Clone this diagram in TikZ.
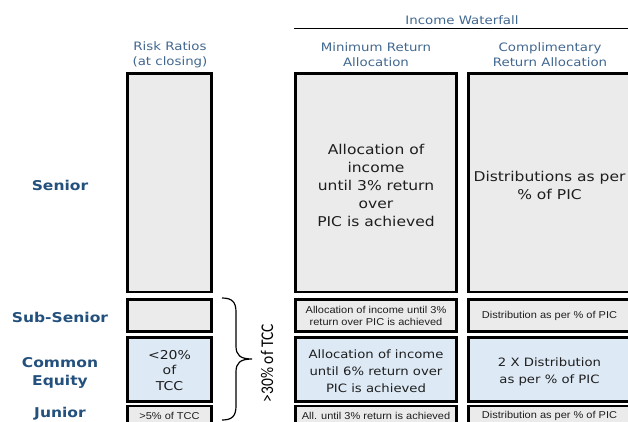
\documentclass[tikz,border=0pt]{standalone}
\usepackage{fontspec}
\usepackage{graphicx}
\newfontfamily\vfont[FakeStretch=1.15]{DejaVu Sans}
\newfontfamily\afont[FakeStretch=1.1]{Liberation Sans}
\definecolor{boxgrey}{HTML}{EBEBEB}
\definecolor{boxblue}{HTML}{DDEAF6}
\definecolor{headblue}{HTML}{41678F}
\definecolor{rowblue}{HTML}{23507C}
\definecolor{boxtext}{HTML}{1E1E1E}
\tikzset{
  tier/.style={draw=black, line width=2.8bp, inner sep=1bp, align=center, text=boxtext},
  greytier/.style={tier, fill=boxgrey},
  bluetier/.style={tier, fill=boxblue},
  boxlabel/.style={align=center, text=boxtext},
  riskcol/.style={minimum width=84bp},
  mincol/.style={minimum width=161bp},
  compcol/.style={minimum width=162bp},
  bigtext/.style={font=\vfont\fontsize{13.5bp}{18bp}\selectfont},
  midtext/.style={font=\vfont\fontsize{11.5bp}{17bp}\selectfont},
  ratiotext/.style={font=\vfont\fontsize{12.2bp}{15.5bp}\selectfont},
  smalltext/.style={font=\afont\fontsize{10bp}{12bp}\selectfont},
  header/.style={align=center, text=headblue, font=\vfont\fontsize{11.6bp}{15bp}\selectfont},
  rowlabel/.style={align=center, text=rowblue, font=\vfont\bfseries\fontsize{13.5bp}{18bp}\selectfont},
}
\begin{document}
\begin{tikzpicture}[x=1bp, y=-1bp]
\useasboundingbox (0,0) rectangle (628,421);
\clip (0,0) rectangle (628,421);

% column headings
\node[header] (hIncome) at (462,20) {Income Waterfall};
\coordinate (ruleL) at (294,28.5);
\coordinate (ruleR) at (628,28.5);
\draw[line width=0.9bp] (ruleL) -- (ruleR);
\node[header] (hRisk) at (170,55) {Risk Ratios\\(at closing)};
\node[header] (hMin) at (376,55) {Minimum Return\\Allocation};
\node[header] (hComp) at (550,55) {Complimentary\\Return Allocation};

% tranche names
\node[rowlabel] (lSenior) at (60,185) {Senior};
\node[rowlabel] (lSub) at (60,317.5) {Sub-Senior};
\node[rowlabel] (lCommon) at (60,372.5) {Common\\Equity};
\node[rowlabel] (lJunior) at (60,413.5) {Junior};

% risk ratio column
\node[greytier, riskcol, minimum height=218.5bp] (rSenior) at (169.5,182.75) {};
\node[greytier, riskcol, minimum height=32bp] (rSub) at (169.5,315.5) {};
\node[bluetier, riskcol, minimum height=64bp] (rCommon) at (169.5,369.5) {};
\node[boxlabel, ratiotext] (rCommonText) at (169.5,370.5) {<20\%\\of\\TCC};
\node[greytier, riskcol, minimum height=19bp, smalltext] (rJunior) at (169.5,415.5) {>5\% of TCC};

% minimum return allocation column
\node[greytier, mincol, minimum height=218.5bp] (mSenior) at (376,182.75) {};
\node[boxlabel, bigtext] (mSeniorText) at (376,185)
  {Allocation of\\income\\until 3\% return\\over\\PIC is achieved};
\node[greytier, mincol, minimum height=32bp, smalltext] (mSub) at (376,315.5)
  {Allocation of income until 3\%\\return over PIC is achieved};
\node[bluetier, mincol, minimum height=64bp] (mCommon) at (376,369.5) {};
\node[boxlabel, midtext] (mCommonText) at (376,371.5)
  {Allocation of income\\until 6\% return over\\PIC is achieved};
\node[greytier, mincol, minimum height=19bp, smalltext] (mJunior) at (376,415.5)
  {All. until 3\% return is achieved};

% complimentary return allocation column
\node[greytier, compcol, minimum height=218.5bp] (cSenior) at (549.5,182.75) {};
\node[boxlabel, bigtext] (cSeniorText) at (549.5,185)
  {Distributions as per\\\% of PIC};
\node[greytier, compcol, minimum height=32bp, smalltext] (cSub) at (549.5,315.5)
  {Distribution as per \% of PIC};
\node[bluetier, compcol, minimum height=64bp] (cCommon) at (549.5,369.5) {};
\node[boxlabel, midtext] (cCommonText) at (549.5,371.5)
  {2 X Distribution\\as per \% of PIC};
\node[greytier, compcol, minimum height=19bp, smalltext] (cJunior) at (549.5,415.5)
  {Distribution as per \% of PIC};

% brace grouping the subordinated tranches
\coordinate (bTop) at (222,298);
\coordinate (bTip) at (252,359);
\coordinate (bBot) at (222,420);
\draw[line width=1.2bp]
  (bTop) .. controls (232,298) and (236,302) .. (236,312) -- (236,346)
  .. controls (236,355) and (240,359) .. (bTip)
  .. controls (240,359) and (236,363) .. (236,372) -- (236,406)
  .. controls (236,416) and (232,420) .. (bBot);
\node[rotate=90, text=black] (tcc) at (267,363)
  {\scalebox{1}[1.15]{\fontspec{Carlito}\fontsize{15.5bp}{16bp}\selectfont >30\% of TCC}};
\end{tikzpicture}
\end{document}
